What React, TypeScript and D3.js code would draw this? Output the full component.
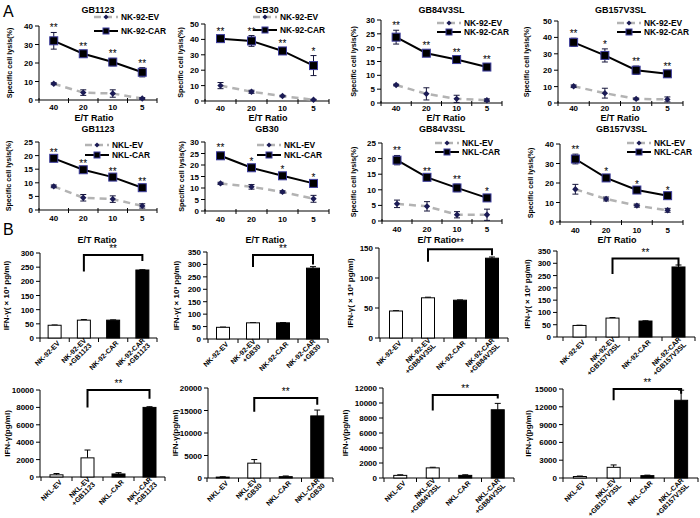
import React from "react";
import * as d3 from "d3";

// ---------- data ----------
const ratios = ["40", "20", "10", "5"];
const cellLines = ["GB1123", "GB30", "GB84V3SL", "GB157V3SL"];

const nk92CarLysis = [[32, 25, 20.5, 15], [40.5, 39, 32.5, 23], [23.8, 18, 15.7, 13], [37, 29, 20, 17.8]];
const nk92CarErr = [[4.5, 1.5, 2, 2.5], [2, 3.5, 2, 6.5], [2.5, 1, 1, 1], [2.5, 4, 2.5, 2]];
const nk92EvLysis = [[8.8, 4, 3.5, 0.8], [10, 6, 3.2, 0.8], [6.5, 3.3, 1.5, 1], [10.2, 6, 2.5, 2.2]];
const nk92EvErr = [[0.5, 1.5, 2, 0.5], [2, 1, 0.5, 0.3], [0.3, 2.2, 1.3, 0.5], [0.8, 3, 0.5, 1.5]];
const nk92Stars = [["**", "**", "**", "**"], ["**", "**", "**", "*"], ["**", "**", "**", "**"], ["**", "*", "**", "**"]];
const nk92LysisMax = [40, 50, 30, 50];
const nk92LysisStep = [10, 10, 5, 10];

const nklCarLysis = [[19, 14.8, 12.1, 8.2], [24, 18.8, 15.3, 12], [19.5, 14, 10.6, 7.4], [32.3, 22.6, 16.4, 13.5]];
const nklCarErr = [[0.5, 0.5, 0.5, 0.5], [1.5, 0.7, 0.7, 0.5], [1.5, 0.5, 1.2, 0.5], [2.5, 1, 0.5, 0.5]];
const nklEvLysis = [[8.7, 4.5, 4, 1.5], [12, 10.5, 8.3, 5.3], [5.5, 4.7, 2, 2], [16.8, 11.8, 8.4, 6]];
const nklEvErr = [[0.5, 1.2, 1.2, 0.8], [0.5, 1, 0.5, 1.5], [1.2, 1.5, 1, 1.8], [2.5, 1, 0.8, 1]];
const nklStars = [["**", "**", "**", "**"], ["**", "*", "*", "*"], ["**", "**", "**", "*"], ["**", "*", "*", "*"]];
const nklLysisMax = [25, 30, 25, 40];
const nklLysisStep = [5, 5, 5, 10];

const nk92Ifn = [[45, 63, 63, 240], [47, 65, 65, 285], [45, 67, 63, 133], [47, 77, 65, 285]];
const nk92IfnErr = [[1, 2, 1, 1], [1, 1, 1, 6], [0.5, 1, 0.5, 2], [1, 2, 1, 8]];
const nk92IfnMax = [300, 350, 150, 350];
const nk92IfnStep = [50, 50, 50, 50];
const nk92Bracket = [[293, 235, 272], [338, 290, 300], [148, 127, 138], [319, 256, 290]];

const nklIfn = [[250, 2200, 350, 8000], [200, 3300, 300, 13800], [350, 1350, 350, 9100], [250, 1800, 400, 13100]];
const nklIfnErr = [[150, 900, 150, 80], [80, 800, 150, 1300], [80, 80, 80, 850], [80, 400, 80, 1700]];
const nklIfnMax = [10000, 20000, 12000, 15000];
const nklIfnStep = [2000, 5000, 2000, 3000];
const nklBracket = [[10000, 8000, 9000], [17800, 14700, 16300], [11070, 9000, 10600], [15000, 13100, 14200]];

// ---------- layout ----------
const FONT = "'Liberation Sans', Arial, Helvetica, sans-serif";

const lineFramesR1 = [
  { ax: 39, x1: 157, yTop: 26, y0: 100, lx: 94, evY: 17, carY: 31, ylx: 9, titleY: 13, etY: 121, etX: 94, tickY: 110 },
  { ax: 205, x1: 329, yTop: 24, y0: 101, lx: 253, evY: 17, carY: 30, ylx: 180, titleY: 13, etY: 121, etX: 268, tickY: 110.5 },
  { ax: 381, x1: 502, yTop: 20, y0: 103, lx: 437, evY: 23, carY: 32, ylx: 353, titleY: 13, etY: 121, etX: 446, tickY: 110.8 },
  { ax: 558, x1: 683, yTop: 21, y0: 103, lx: 617, evY: 23, carY: 32, ylx: 526, titleY: 13, etY: 121, etX: 620, tickY: 110.8 },
];
const lineFramesR2 = [
  { ax: 39, x1: 157, yTop: 142, y0: 210, lx: 85, evY: 145, carY: 155, ylx: 8, titleY: 131.5, etY: 243, etX: 97, tickY: 221 },
  { ax: 205, x1: 329, yTop: 142, y0: 211, lx: 257, evY: 145, carY: 155, ylx: 181, titleY: 131.5, etY: 243, etX: 265, tickY: 222 },
  { ax: 382, x1: 502, yTop: 143, y0: 221, lx: 435, evY: 143, carY: 152, ylx: 353, titleY: 132, etY: 243, etX: 437, tickY: 232 },
  { ax: 560, x1: 683, yTop: 144, y0: 222, lx: 627, evY: 143, carY: 152, ylx: 530, titleY: 132, etY: 243, etX: 617, tickY: 233 },
];
const barFramesR3 = [
  { ax: 40, b0: 40, b1: 157, yTop: 253, y0: 338, ylx: 6 },
  { ax: 207, b0: 208, b1: 328, yTop: 252, y0: 339, ylx: 176 },
  { ax: 379, b0: 380, b1: 508, yTop: 248, y0: 338, ylx: 350 },
  { ax: 557, b0: 563, b1: 695, yTop: 251, y0: 337, ylx: 527 },
];
const barFramesR4 = [
  { ax: 40, b0: 41, b1: 165, yTop: 390, y0: 477, ylx: 7 },
  { ax: 208, b0: 207, b1: 333, yTop: 388, y0: 478, ylx: 175 },
  { ax: 383, b0: 384, b1: 514, yTop: 388, y0: 478, ylx: 345 },
  { ax: 563, b0: 563, b1: 698, yTop: 389, y0: 478, ylx: 528 },
];

const diamond = (cx: number, cy: number, r: number) =>
  `M${cx},${cy - r}L${cx + r},${cy}L${cx},${cy + r}L${cx - r},${cy}Z`;

function LinePanel(props: any) {
  const { f, title, car, carErr, ev, evErr, stars, ymax, step, evName, carName } = props;
  const x = d3.scaleBand().domain(ratios).range([f.ax, f.x1]);
  const y = d3.scaleLinear().domain([0, ymax]).range([f.y0, f.yTop]);
  const cx = (i: number) => (x(ratios[i]) as number) + x.bandwidth() / 2;
  const ticks = d3.range(0, ymax + step / 2, step);
  const line = d3.line<number>().x((_, i) => cx(i)).y((v) => y(v));
  const errColor = "#15153a";
  const errBar = (v: number, e: number, i: number, key: string) => (
    <g key={key} stroke={errColor} strokeWidth={1}>
      <line x1={cx(i)} x2={cx(i)} y1={y(v + e)} y2={y(Math.max(0, v - e))} />
      <line x1={cx(i) - 3} x2={cx(i) + 3} y1={y(v + e)} y2={y(v + e)} />
      <line x1={cx(i) - 3} x2={cx(i) + 3} y1={y(Math.max(0, v - e))} y2={y(Math.max(0, v - e))} />
    </g>
  );
  const midY = (f.y0 + f.yTop) / 2;
  return (
    <g fontFamily={FONT} fontWeight="bold" fill="#000">
      <text x={(f.ax + f.x1) / 2} y={f.titleY} fontSize={9} textAnchor="middle">{title}</text>
      {/* y axis */}
      <line x1={f.ax} x2={f.ax} y1={f.y0} y2={f.yTop} stroke="#000" strokeWidth={1} />
      {ticks.map((t) => (
        <g key={t}>
          <line x1={f.ax - 4} x2={f.ax} y1={y(t)} y2={y(t)} stroke="#000" />
          <text x={f.ax - 6} y={y(t) + 3} fontSize={8} textAnchor="end">{t}</text>
        </g>
      ))}
      <text transform={`translate(${f.ylx},${midY}) rotate(-90)`} fontSize={7.2} textAnchor="middle" dy="0.35em">
        Specific cell lysis(%)
      </text>
      {/* x axis */}
      <line x1={f.ax} x2={f.x1} y1={f.y0} y2={f.y0} stroke="#000" strokeWidth={1} />
      {d3.range(0, ratios.length + 1).map((i) => (
        <line key={i} x1={f.ax + i * x.bandwidth()} x2={f.ax + i * x.bandwidth()} y1={f.y0 - 2} y2={f.y0 + 3} stroke="#000" />
      ))}
      {ratios.map((r, i) => (
        <text key={r} x={cx(i)} y={f.tickY} fontSize={8} textAnchor="middle">{r}</text>
      ))}
      <text x={f.etX} y={f.etY} fontSize={9} textAnchor="middle">E/T  Ratio</text>
      {/* EV series */}
      <path d={line(ev) as string} fill="none" stroke="#b3b3b3" strokeWidth={2.5} strokeDasharray="7,5" />
      {ev.map((v: number, i: number) => errBar(v, evErr[i], i, "ee" + i))}
      {ev.map((v: number, i: number) => (
        <path key={"em" + i} d={diamond(cx(i), y(v), 3.2)} fill="#1b1b55" />
      ))}
      {/* CAR series */}
      <path d={line(car) as string} fill="none" stroke="#000" strokeWidth={2} />
      {car.map((v: number, i: number) => errBar(v, carErr[i], i, "ce" + i))}
      {car.map((v: number, i: number) => (
        <rect key={"cm" + i} x={cx(i) - 4} y={y(v) - 4} width={8} height={8} fill="#000" stroke="#3d3d9e" strokeWidth={1} />
      ))}
      {stars.map((s: string, i: number) => (
        <text key={"s" + i} x={cx(i)} y={y(car[i] + carErr[i]) - 1} fontSize={10} fontWeight="normal" fill="#000" textAnchor="middle">{s}</text>
      ))}
      {/* legend */}
      <line x1={f.lx} x2={f.lx + 24} y1={f.evY} y2={f.evY} stroke="#b3b3b3" strokeWidth={2.5} strokeDasharray="7,4" />
      <path d={diamond(f.lx + 12, f.evY, 2.6)} fill="#1b1b55" />
      <text x={f.lx + 27} y={f.evY + 3} fontSize={8.4}>{evName}</text>
      <line x1={f.lx} x2={f.lx + 24} y1={f.carY} y2={f.carY} stroke="#000" strokeWidth={2} />
      <rect x={f.lx + 9} y={f.carY - 3} width={6} height={6} fill="#000" stroke="#3d3d9e" strokeWidth={1} />
      <text x={f.lx + 27} y={f.carY + 3} fontSize={8.4}>{carName}</text>
    </g>
  );
}

function BarPanel(props: any) {
  const { f, values, errs, ymax, step, labels, bracket, ylabel } = props;
  const idx = values.map((_: number, i: number) => String(i));
  const x = d3.scaleBand().domain(idx).range([f.b0, f.b1]);
  const y = d3.scaleLinear().domain([0, ymax]).range([f.y0, f.yTop]);
  const cx = (i: number) => (x(String(i)) as number) + x.bandwidth() / 2;
  const ticks = d3.range(0, ymax + step / 2, step);
  const bw = 13;
  const midY = (f.y0 + f.yTop) / 2;
  const [bTop, bL, bR] = bracket;
  return (
    <g fontFamily={FONT} fontWeight="bold" fill="#000">
      <line x1={f.ax} x2={f.ax} y1={f.y0} y2={f.yTop} stroke="#000" />
      {ticks.map((t: number) => (
        <g key={t}>
          <line x1={f.ax - 4} x2={f.ax} y1={y(t)} y2={y(t)} stroke="#000" />
          <text x={f.ax - 6} y={y(t) + 3} fontSize={8} textAnchor="end">{t}</text>
        </g>
      ))}
      <text transform={`translate(${f.ylx},${midY}) rotate(-90)`} fontSize={8} textAnchor="middle" dy="0.35em">
        {ylabel}
      </text>
      <line x1={f.ax} x2={f.b1} y1={f.y0} y2={f.y0} stroke="#000" />
      {d3.range(0, values.length + 1).map((i) => (
        <line key={i} x1={f.b0 + i * x.bandwidth()} x2={f.b0 + i * x.bandwidth()} y1={f.y0} y2={f.y0 + 4} stroke="#000" />
      ))}
      {values.map((v: number, i: number) => (
        <g key={i}>
          <line x1={cx(i)} x2={cx(i)} y1={y(v)} y2={y(v + errs[i])} stroke="#000" />
          <line x1={cx(i) - 3} x2={cx(i) + 3} y1={y(v + errs[i])} y2={y(v + errs[i])} stroke="#000" />
          <rect x={cx(i) - bw / 2} y={y(v)} width={bw} height={f.y0 - y(v)} fill={i < 2 ? "#fff" : "#000"} stroke="#000" strokeWidth={1} />
        </g>
      ))}
      {labels.map((lab: string, i: number) => {
        const parts = lab.split("\n");
        const offs = parts.length === 1 ? [2.5] : [-1.5, 5.8];
        return (
          <text key={"l" + i} transform={`translate(${cx(i) + 4},${f.y0 + 4})  rotate(-45)`} fontSize={7} textAnchor="end">
            {parts.map((p, j) => (
              <tspan key={j} x={0} y={offs[j]}>{p}</tspan>
            ))}
          </text>
        );
      })}
      <path
        d={`M${cx(1)},${y(bL)}V${y(bTop)}H${cx(3)}V${y(bR)}`}
        fill="none"
        stroke="#000"
        strokeWidth={2}
      />
      <text x={(cx(1) + cx(3)) / 2} y={y(bTop) - 3} fontSize={10} fontWeight="normal" fill="#000" textAnchor="middle">**</text>
    </g>
  );
}

export default function App() {
  return (
    <svg width={700} height={518} style={{ position: "absolute", left: 0, top: 0, background: "#fff" }}>
      <rect width={700} height={518} fill="#fff" />
      <text x={3} y={17} fontSize={16} fontFamily={FONT}>A</text>
      <text x={3} y={235} fontSize={16} fontFamily={FONT}>B</text>
      {cellLines.map((c, k) => (
        <LinePanel
          key={"r1" + k}
          f={lineFramesR1[k]}
          title={c}
          car={nk92CarLysis[k]}
          carErr={nk92CarErr[k]}
          ev={nk92EvLysis[k]}
          evErr={nk92EvErr[k]}
          stars={nk92Stars[k]}
          ymax={nk92LysisMax[k]}
          step={nk92LysisStep[k]}
          evName="NK-92-EV"
          carName="NK-92-CAR"
        />
      ))}
      {cellLines.map((c, k) => (
        <LinePanel
          key={"r2" + k}
          f={lineFramesR2[k]}
          title={c}
          car={nklCarLysis[k]}
          carErr={nklCarErr[k]}
          ev={nklEvLysis[k]}
          evErr={nklEvErr[k]}
          stars={nklStars[k]}
          ymax={nklLysisMax[k]}
          step={nklLysisStep[k]}
          evName="NKL-EV"
          carName="NKL-CAR"
        />
      ))}
      {cellLines.map((c, k) => (
        <BarPanel
          key={"r3" + k}
          f={barFramesR3[k]}
          values={nk92Ifn[k]}
          errs={nk92IfnErr[k]}
          ymax={nk92IfnMax[k]}
          step={nk92IfnStep[k]}
          bracket={nk92Bracket[k]}
          labels={["NK-92-EV", `NK-92-EV\n+${c}`, "NK-92-CAR", `NK-92-CAR\n+${c}`]}
          ylabel="IFN-γ( × 10³ pg/ml)"
        />
      ))}
      {cellLines.map((c, k) => (
        <BarPanel
          key={"r4" + k}
          f={barFramesR4[k]}
          values={nklIfn[k]}
          errs={nklIfnErr[k]}
          ymax={nklIfnMax[k]}
          step={nklIfnStep[k]}
          bracket={nklBracket[k]}
          labels={["NKL-EV", `NKL-EV\n+${c}`, "NKL-CAR", `NKL-CAR\n+${c}`]}
          ylabel="IFN-γ(pg/ml)"
        />
      ))}
    </svg>
  );
}
